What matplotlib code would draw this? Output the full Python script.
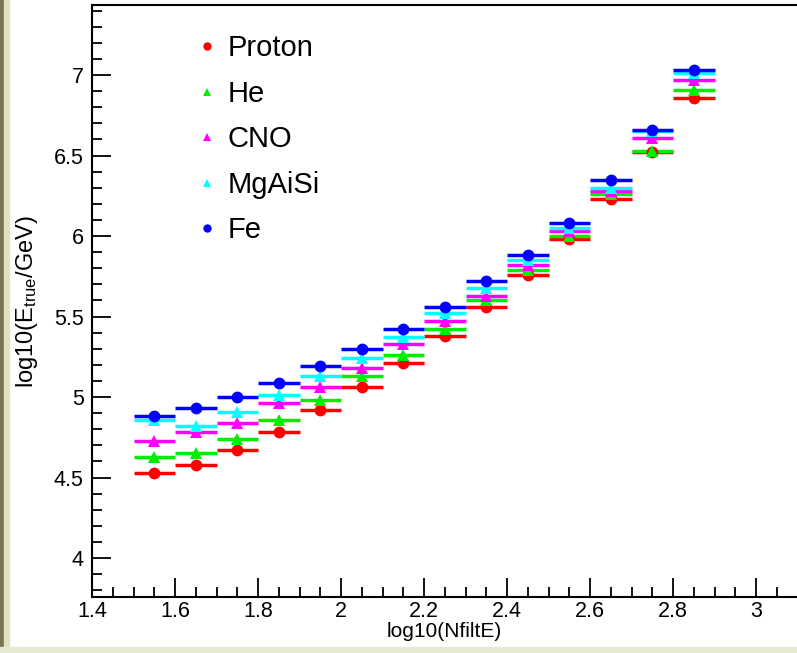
import numpy as np
import matplotlib
matplotlib.use("Agg")
import matplotlib.pyplot as plt
from matplotlib.lines import Line2D
from matplotlib.patches import Rectangle

plt.rcParams["font.family"] = ["Liberation Sans", "DejaVu Sans"]
plt.rcParams["mathtext.fontset"] = "custom"
plt.rcParams["mathtext.rm"] = "Liberation Sans"
plt.rcParams["mathtext.default"] = "regular"

# bin centres of log10(NfiltE), width 0.1
bin_centers = [1.55, 1.65, 1.75, 1.85, 1.95, 2.05, 2.15, 2.25, 2.35, 2.45, 2.55, 2.65, 2.75, 2.85]
bin_halfwidth = 0.05

proton = [4.53, 4.58, 4.67, 4.78, 4.92, 5.06, 5.21, 5.38, 5.56, 5.76, 5.98, 6.23, 6.52, 6.86]
helium = [4.63, 4.65, 4.74, 4.86, 4.98, 5.13, 5.26, 5.42, 5.60, 5.79, 6.00, 6.26, 6.53, 6.91]
cno = [4.73, 4.78, 4.84, 4.96, 5.06, 5.18, 5.33, 5.47, 5.63, 5.82, 6.03, 6.28, 6.61, 6.97]
mgaisi = [4.86, 4.82, 4.91, 5.01, 5.13, 5.24, 5.37, 5.52, 5.68, 5.85, 6.05, 6.30, 6.65, 7.01]
fe = [4.88, 4.93, 5.00, 5.09, 5.19, 5.30, 5.42, 5.56, 5.72, 5.88, 6.08, 6.35, 6.66, 7.03]

series = [
    ("Proton", proton, "#ff0000", "o"),
    ("He", helium, "#00ee00", "^"),
    ("CNO", cno, "#ff00ff", "^"),
    ("MgAiSi", mgaisi, "#00ffff", "^"),
    ("Fe", fe, "#0000ff", "o"),
]

fig = plt.figure(figsize=(7.97, 6.53), dpi=100)

# slide background strips
fig.patches.append(Rectangle((0, 0), 4 / 797, 1, transform=fig.transFigure, color="#7b7352", zorder=0))
fig.patches.append(Rectangle((4 / 797, 0), 5 / 797, 1, transform=fig.transFigure, color="#dfe3c2", zorder=0))
fig.patches.append(Rectangle((0, 0), 1, 6 / 653, transform=fig.transFigure, color="#e6e9d3", zorder=0))

ax = fig.add_axes([92 / 797, 56 / 653, 705 / 797, 592 / 653])

for name, vals, col, mk in series:
    ax.errorbar(bin_centers, vals, xerr=bin_halfwidth, fmt=mk, color=col, ms=8.5,
                elinewidth=2.5, capsize=0, mew=0)

ax.set_xlim(1.4, 1.4 + 705 / 415)
ax.set_ylim(3.758, 7.435)

ax.set_xticks(np.arange(1.4, 3.01, 0.2))
ax.set_xticklabels(["1.4", "1.6", "1.8", "2", "2.2", "2.4", "2.6", "2.8", "3"])
ax.set_xticks(np.arange(1.45, 3.1, 0.05), minor=True)
ax.set_yticks([4, 4.5, 5, 5.5, 6, 6.5, 7])
ax.set_yticklabels(["4", "4.5", "5", "5.5", "6", "6.5", "7"])
ax.set_yticks(np.arange(3.8, 7.41, 0.1), minor=True)

ax.tick_params(which="both", direction="in", labelsize=15.5, color="black", width=1.3)
ax.tick_params(which="major", length=14)
ax.tick_params(which="minor", length=7)
ax.tick_params(axis="x", pad=3)
ax.tick_params(axis="y", pad=6)
ax.spines["right"].set_visible(False)
for s in ["left", "bottom", "top"]:
    ax.spines[s].set_linewidth(1.5)

ax.set_xlabel("log10(NfiltE)", fontsize=15, labelpad=0)
ax.set_ylabel(r"log10(E$_{true}$/GeV)", fontsize=17, labelpad=10)

handles = [Line2D([], [], linestyle="none", marker=mk, color=col, ms=6, mew=0)
           for name, vals, col, mk in series]
ax.legend(handles, [s[0] for s in series], loc="upper left", bbox_to_anchor=(0.13, 0.975),
          frameon=False, fontsize=21, handlelength=0.6, handletextpad=0.4,
          labelspacing=0.6, borderpad=0)

fig.savefig("out.png", dpi=100)
